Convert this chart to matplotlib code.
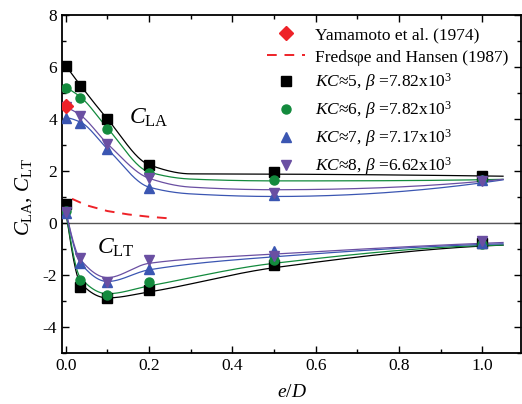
import numpy as np
import matplotlib
matplotlib.use("Agg")
import matplotlib.pyplot as plt
from matplotlib.ticker import MultipleLocator, FuncFormatter

plt.rcParams['font.family'] = ['Liberation Serif', 'DejaVu Serif']
plt.rcParams['mathtext.fontset'] = 'custom'
plt.rcParams['mathtext.rm'] = 'Liberation Serif'
plt.rcParams['mathtext.it'] = 'Liberation Serif:italic'
plt.rcParams['mathtext.bf'] = 'Liberation Serif:bold'
plt.rcParams['axes.unicode_minus'] = False

# gap ratio e/D of the measurements
e_D = [0.0, 0.035, 0.1, 0.2, 0.5, 1.0]

# lift coefficient amplitude C_LA
cla_kc5 = [6.05, 5.28, 3.99, 2.24, 1.97, 1.82]
cla_kc6 = [5.20, 4.82, 3.61, 1.94, 1.66, 1.67]
cla_kc7 = [4.05, 3.86, 2.84, 1.33, 1.07, 1.64]
cla_kc8 = [4.45, 4.12, 3.04, 1.73, 1.15, 1.62]

# time-averaged lift coefficient C_LT
clt_kc5 = [0.72, -2.46, -2.90, -2.56, -1.62, -0.78]
clt_kc6 = [0.45, -2.18, -2.78, -2.27, -1.41, -0.80]
clt_kc7 = [0.40, -1.55, -2.28, -1.76, -1.09, -0.77]
clt_kc8 = [0.42, -1.34, -2.27, -1.41, -1.27, -0.69]

# knots of the fitted trend curves
cla_fit_x = [0.0, 0.035, 0.1, 0.2, 0.3, 0.5, 1.05]
cla_fit_kc5 = [6.05, 5.30, 4.00, 2.24, 1.89, 1.88, 1.80]
cla_fit_kc6 = [5.20, 4.85, 3.65, 1.96, 1.69, 1.62, 1.68]
cla_fit_kc7 = [4.05, 3.88, 2.85, 1.38, 1.12, 1.02, 1.66]
cla_fit_kc8 = [4.45, 4.15, 3.05, 1.72, 1.38, 1.28, 1.68]

clt_fit_x = [0.0, 0.035, 0.1, 0.2, 0.5, 1.05]
clt_fit_kc5 = [0.45, -2.30, -2.88, -2.65, -1.72, -0.85]
clt_fit_kc6 = [0.45, -2.10, -2.72, -2.42, -1.55, -0.85]
clt_fit_kc7 = [0.45, -1.53, -2.25, -1.80, -1.30, -0.80]
clt_fit_kc8 = [0.45, -1.40, -2.10, -1.55, -1.20, -0.75]

# reference data
yam_x = [0.0]
yam_y = [4.5]
fh_x = [0.015, 0.05, 0.1, 0.15, 0.2, 0.255]
fh_y = [0.93, 0.68, 0.46, 0.33, 0.24, 0.17]

labels = [r'$KC$≈5, $\beta$ =7.82x10$^3$',
          r'$KC$≈6, $\beta$ =7.82x10$^3$',
          r'$KC$≈7, $\beta$ =7.17x10$^3$',
          r'$KC$≈8, $\beta$ =6.62x10$^3$']
colors = ['#000000', '#138a3d', '#3b56b2', '#6a4fa2']
markers = ['s', 'o', '^', 'v']


def pchip(x, y, xq):
    """Shape-preserving piecewise cubic Hermite curve through the knots."""
    x = np.asarray(x, float)
    y = np.asarray(y, float)
    h = np.diff(x)
    d = np.diff(y) / h
    n = len(x)
    m = np.zeros(n)
    for k in range(1, n - 1):
        if d[k - 1] * d[k] > 0:
            w1 = 2 * h[k] + h[k - 1]
            w2 = h[k] + 2 * h[k - 1]
            m[k] = (w1 + w2) / (w1 / d[k - 1] + w2 / d[k])

    def end(h0, h1, d0, d1):
        s = ((2 * h0 + h1) * d0 - h0 * d1) / (h0 + h1)
        if np.sign(s) != np.sign(d0):
            s = 0.0
        elif np.sign(d0) != np.sign(d1) and abs(s) > abs(3 * d0):
            s = 3 * d0
        return s

    m[0] = end(h[0], h[1], d[0], d[1])
    m[-1] = end(h[-1], h[-2], d[-1], d[-2])
    xq = np.asarray(xq, float)
    out = np.empty_like(xq)
    for i, xv in enumerate(xq):
        k = min(max(np.searchsorted(x, xv) - 1, 0), n - 2)
        t = (xv - x[k]) / h[k]
        h00 = 2 * t**3 - 3 * t**2 + 1
        h10 = t**3 - 2 * t**2 + t
        h01 = -2 * t**3 + 3 * t**2
        h11 = t**3 - t**2
        out[i] = h00 * y[k] + h10 * h[k] * m[k] + h01 * y[k + 1] + h11 * h[k] * m[k + 1]
    return out


fig = plt.figure(figsize=(5.22, 4.04), dpi=100)
ax = fig.add_axes([0.1188, 0.1262, 0.8792, 0.8367])

ax.axhline(0, color='#555555', lw=1.0, zorder=1)

ax.plot(yam_x, yam_y, linestyle='none', marker='D', color='#ee2228', ms=7,
        label='Yamamoto et al. (1974)', zorder=4)
ax.plot(fh_x, fh_y, linestyle=(0, (5, 4)), color='#ee2228', lw=1.4,
        label='Fredsφe and Hansen (1987)', zorder=3)

cla_sets = [cla_kc5, cla_kc6, cla_kc7, cla_kc8]
clt_sets = [clt_kc5, clt_kc6, clt_kc7, clt_kc8]
cla_fits = [cla_fit_kc5, cla_fit_kc6, cla_fit_kc7, cla_fit_kc8]
clt_fits = [clt_fit_kc5, clt_fit_kc6, clt_fit_kc7, clt_fit_kc8]

xs_a = np.linspace(cla_fit_x[0], cla_fit_x[-1], 400)
xs_t = np.linspace(clt_fit_x[0], clt_fit_x[-1], 400)

for cla, clt, fa, ft, c, mk, lab in zip(cla_sets, clt_sets, cla_fits, clt_fits,
                                         colors, markers, labels):
    ax.plot(xs_a, pchip(cla_fit_x, fa, xs_a), color=c, lw=0.9, zorder=2)
    ax.plot(xs_t, pchip(clt_fit_x, ft, xs_t), color=c, lw=0.9, zorder=2)
    ms = 6.5 if mk in ('s', 'o') else 7.5
    ax.plot(e_D, cla, linestyle='none', marker=mk, color=c, ms=ms, zorder=3, label=lab)
    ax.plot(e_D, clt, linestyle='none', marker=mk, color=c, ms=ms, zorder=3)

ax.set_xlim(-0.009, 1.093)
ax.set_ylim(-5, 8)
ax.xaxis.set_major_locator(MultipleLocator(0.2))
ax.xaxis.set_minor_locator(MultipleLocator(0.1))
ax.yaxis.set_major_locator(MultipleLocator(2))
ax.yaxis.set_minor_locator(MultipleLocator(1))
ax.xaxis.set_major_formatter(FuncFormatter(lambda v, p: '%.1f' % v))
ax.yaxis.set_major_formatter(FuncFormatter(lambda v, p: '%d' % round(v)))
ax.tick_params(which='both', direction='in', top=True, right=True, labelsize=12.5,
               width=1.0)
ax.tick_params(which='major', length=5)
ax.tick_params(which='minor', length=3)
for lbl in ax.get_xticklabels() + ax.get_yticklabels():
    lbl.set_fontfamily('Liberation Serif')
for s in ax.spines.values():
    s.set_linewidth(1.3)

ax.set_xlabel(r'$e/D$', fontsize=14, labelpad=7)
ax.set_ylabel(r'$C_{\rm LA}$, $C_{\rm LT}$', fontsize=15)
ax.yaxis.set_label_coords(-0.062, 0.46)

ax.text(0.2, 4.05, r'$C_{\rm LA}$', fontsize=17, ha='center', va='center')
ax.text(0.12, -0.95, r'$C_{\rm LT}$', fontsize=17, ha='center', va='center')

ax.legend(loc='upper right', bbox_to_anchor=(1.0, 1.0), frameon=False, fontsize=12.5,
          handlelength=2.2, handletextpad=0.6, labelspacing=0.35, borderaxespad=0.3)

fig.savefig('out.png', dpi=100)
